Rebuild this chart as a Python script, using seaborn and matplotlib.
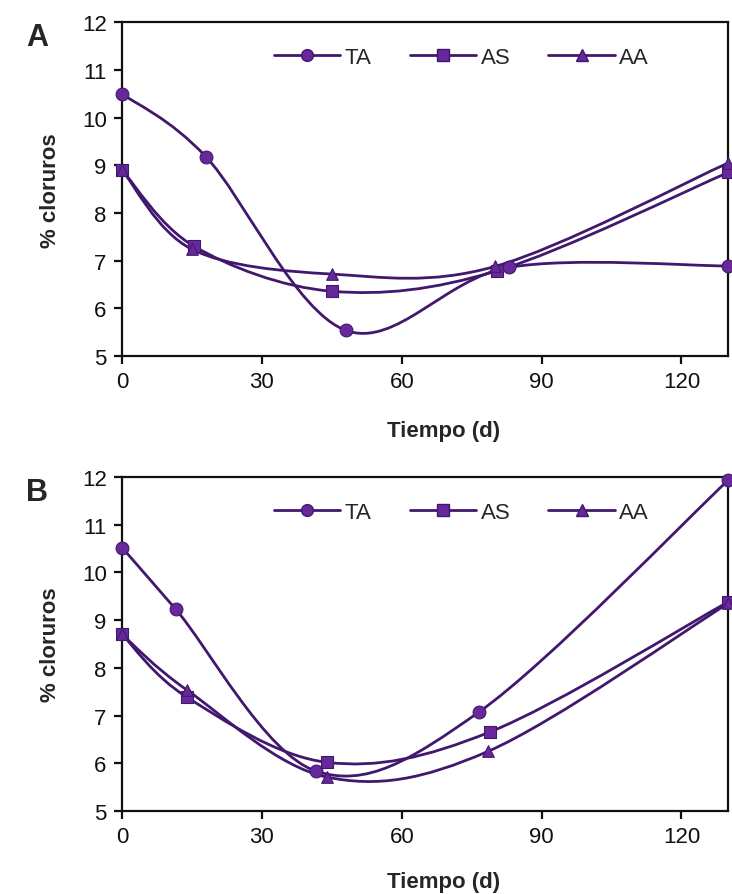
import numpy as np
import pandas as pd
import matplotlib
matplotlib.use('Agg')
import matplotlib.pyplot as plt
import seaborn as sns
from matplotlib.path import Path
from matplotlib.patches import PathPatch
from matplotlib.lines import Line2D

# Panel A
a_ta_x = [0, 18, 48, 83, 130]
a_ta_y = [10.5, 9.18, 5.54, 6.86, 6.89]
a_as_x = [0, 15.5, 45, 80.5, 130]
a_as_y = [8.9, 7.3, 6.36, 6.79, 8.85]
a_aa_x = [0, 15, 45, 80, 130]
a_aa_y = [8.9, 7.24, 6.72, 6.88, 9.05]

# Panel B
b_ta_x = [0, 11.5, 41.5, 76.5, 130]
b_ta_y = [10.52, 9.23, 5.84, 7.07, 11.93]
b_as_x = [0, 14, 44, 79, 130]
b_as_y = [8.7, 7.38, 6.02, 6.66, 9.38]
b_aa_x = [0, 14, 44, 78.5, 130]
b_aa_y = [8.7, 7.53, 5.71, 6.25, 9.35]

series = ['TA', 'AS', 'AA']
markers = {'TA': 'o', 'AS': 's', 'AA': '^'}
msize = {'TA': 85, 'AS': 75, 'AA': 70}

LINE_C = '#42186e'
MARK_C = '#66289a'


def make_df(xs, ys):
    rows = []
    for s, x, y in zip(series, xs, ys):
        for xi, yi in zip(x, y):
            rows.append({'serie': s, 'tiempo': xi, 'cloruros': yi})
    return pd.DataFrame(rows)


def smooth_path(x, y):
    # suavizado tipo Excel: bezier cubica por los puntos
    p = np.column_stack([x, y]).astype(float)
    n = len(p)
    verts = [p[0]]
    codes = [Path.MOVETO]
    for i in range(n - 1):
        prev = p[i - 1] if i > 0 else p[i]
        nxt = p[i + 2] if i + 2 < n else p[i + 1]
        c1 = p[i] + (p[i + 1] - prev) / 6
        c2 = p[i + 1] - (nxt - p[i]) / 6
        verts += [c1, c2, p[i + 1]]
        codes += [Path.CURVE4] * 3
    return Path(verts, codes)


sns.set_style('ticks')
plt.rcParams['font.family'] = ['Liberation Sans', 'DejaVu Sans']

fig = plt.figure(figsize=(7.32, 8.95), dpi=100)
ax_a = fig.add_axes([0.1667, 0.601, 0.828, 0.373])
ax_b = fig.add_axes([0.1667, 0.0927, 0.828, 0.3733])

panels = [
    (ax_a, 'A', [a_ta_x, a_as_x, a_aa_x], [a_ta_y, a_as_y, a_aa_y], -0.19),
    (ax_b, 'B', [b_ta_x, b_as_x, b_aa_x], [b_ta_y, b_as_y, b_aa_y], -0.18),
]

for ax, letter, xs, ys, lab_y in panels:
    df = make_df(xs, ys)
    for s, x, y in zip(series, xs, ys):
        ax.add_patch(PathPatch(smooth_path(x, y), facecolor='none',
                               edgecolor=LINE_C, lw=2.0, zorder=2))
    for s in series:
        sub = df[df['serie'] == s]
        sns.scatterplot(data=sub, x='tiempo', y='cloruros', marker=markers[s],
                        s=msize[s], color=MARK_C, edgecolor=LINE_C,
                        linewidth=0.8, ax=ax, zorder=3, clip_on=False, legend=False)
    ax.set_xlim(0, 130)
    ax.set_ylim(5, 12)
    ax.set_xticks([0, 30, 60, 90, 120])
    ax.set_yticks(range(5, 13))
    ax.tick_params(axis='both', labelsize=16, length=6, width=1.6, direction='out',
                   colors='#111111', pad=5)
    for sp in ax.spines.values():
        sp.set_linewidth(1.6)
        sp.set_color('#111111')
    ax.set_xlabel('Tiempo (d)', fontsize=16, fontweight='bold')
    ax.xaxis.set_label_coords(0.53, lab_y)
    ax.set_ylabel('% cloruros', fontsize=16, fontweight='bold')
    ax.yaxis.set_label_coords(-0.1, 0.5)
    ax.text(-0.14, 0.955, letter, transform=ax.transAxes, fontsize=22,
            fontweight='bold', ha='center', va='center')
    handles = [Line2D([], [], color=LINE_C, lw=2.0, marker=markers[s],
                      markersize=8.5 if s == 'TA' else 8, markerfacecolor=MARK_C,
                      markeredgecolor=LINE_C) for s in series]
    ax.legend(handles, series, loc='upper center', bbox_to_anchor=(0.56, 0.985),
              ncol=3, frameon=False, fontsize=16, handlelength=3.0,
              columnspacing=1.7, handletextpad=0.2)

fig.savefig('out.png', dpi=100)
